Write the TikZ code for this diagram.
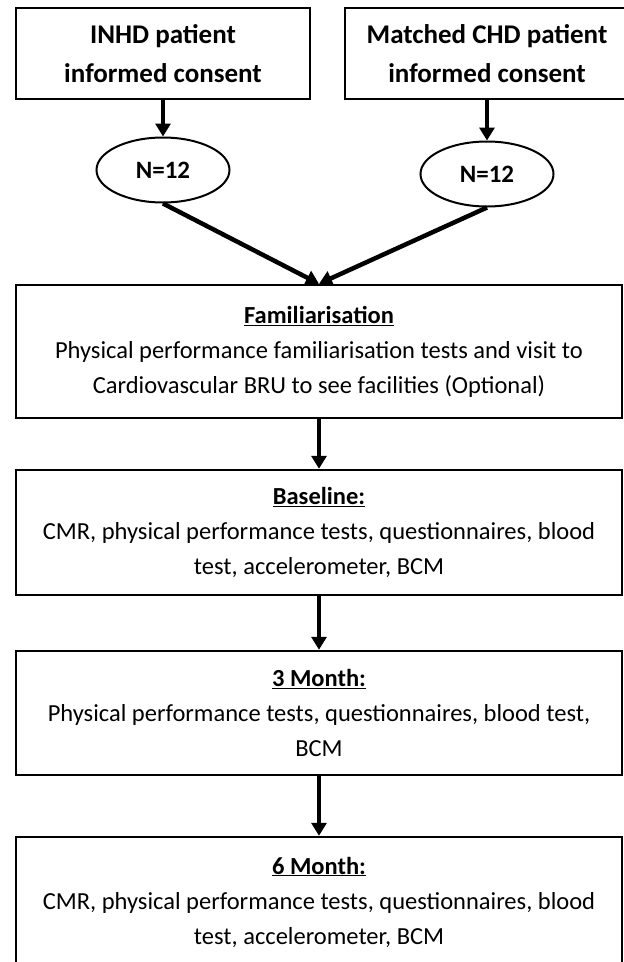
\documentclass[tikz,border=0pt]{standalone}
\usepackage{fontspec}
\setmainfont{Carlito}
\usetikzlibrary{arrows.meta,shapes.geometric}

\begin{document}
\begin{tikzpicture}[x=1pt,y=-1pt,
    source/.style={draw,line width=2.5pt,minimum height=91pt,align=center,inner sep=0pt,font=\bfseries\fontsize{27}{39}\selectfont},
    count/.style={draw,ellipse,line width=2pt,minimum width=133pt,minimum height=65pt,inner sep=0pt,font=\bfseries\fontsize{25}{28}\selectfont},
    stage/.style={draw,line width=2.5pt,minimum width=606pt,align=center,inner sep=0pt,font=\fontsize{24.5}{35}\selectfont},
    flow/.style={-{Triangle[width=15pt,length=13pt]},line width=4.5pt}]
    \useasboundingbox (0,0) rectangle (624,962);

    \node[source,minimum width=294pt] (inhd) at (163,53.5) {INHD patient\\informed consent};
    \node[source,minimum width=284pt] (chd) at (487,53.5) {Matched CHD patient\\informed consent};

    \node[count] (ninhd) at (163,170) {N=12};
    \node[count] (nchd) at (487,174) {N=12};

    \node[stage,minimum height=133pt] (famil) at (319,351.5) {\underline{\textbf{Familiarisation}}\\Physical performance familiarisation tests and visit to\\Cardiovascular BRU to see facilities (Optional)};
    \node[stage,minimum height=125pt] (baseline) at (319,532.5) {\underline{\textbf{Baseline:}}\\CMR, physical performance tests, questionnaires, blood\\test, accelerometer, BCM};
    \node[stage,minimum height=124pt] (month3) at (319,713) {\underline{\textbf{3 Month:}}\\Physical performance tests, questionnaires, blood test,\\BCM};
    \node[stage,minimum height=130pt] (month6) at (319,902) {\underline{\textbf{6 Month:}}\\CMR, physical performance tests, questionnaires, blood\\test, accelerometer, BCM};

    \draw[flow] (inhd) -- (ninhd);
    \draw[flow] (chd) -- (nchd);
    \draw[flow] (ninhd.south) -- (famil.north);
    \draw[flow] (nchd.south) -- (famil.north);
    \draw[flow] (famil) -- (baseline);
    \draw[flow] (baseline) -- (month3);
    \draw[flow] (month3) -- (month6);
\end{tikzpicture}
\end{document}
